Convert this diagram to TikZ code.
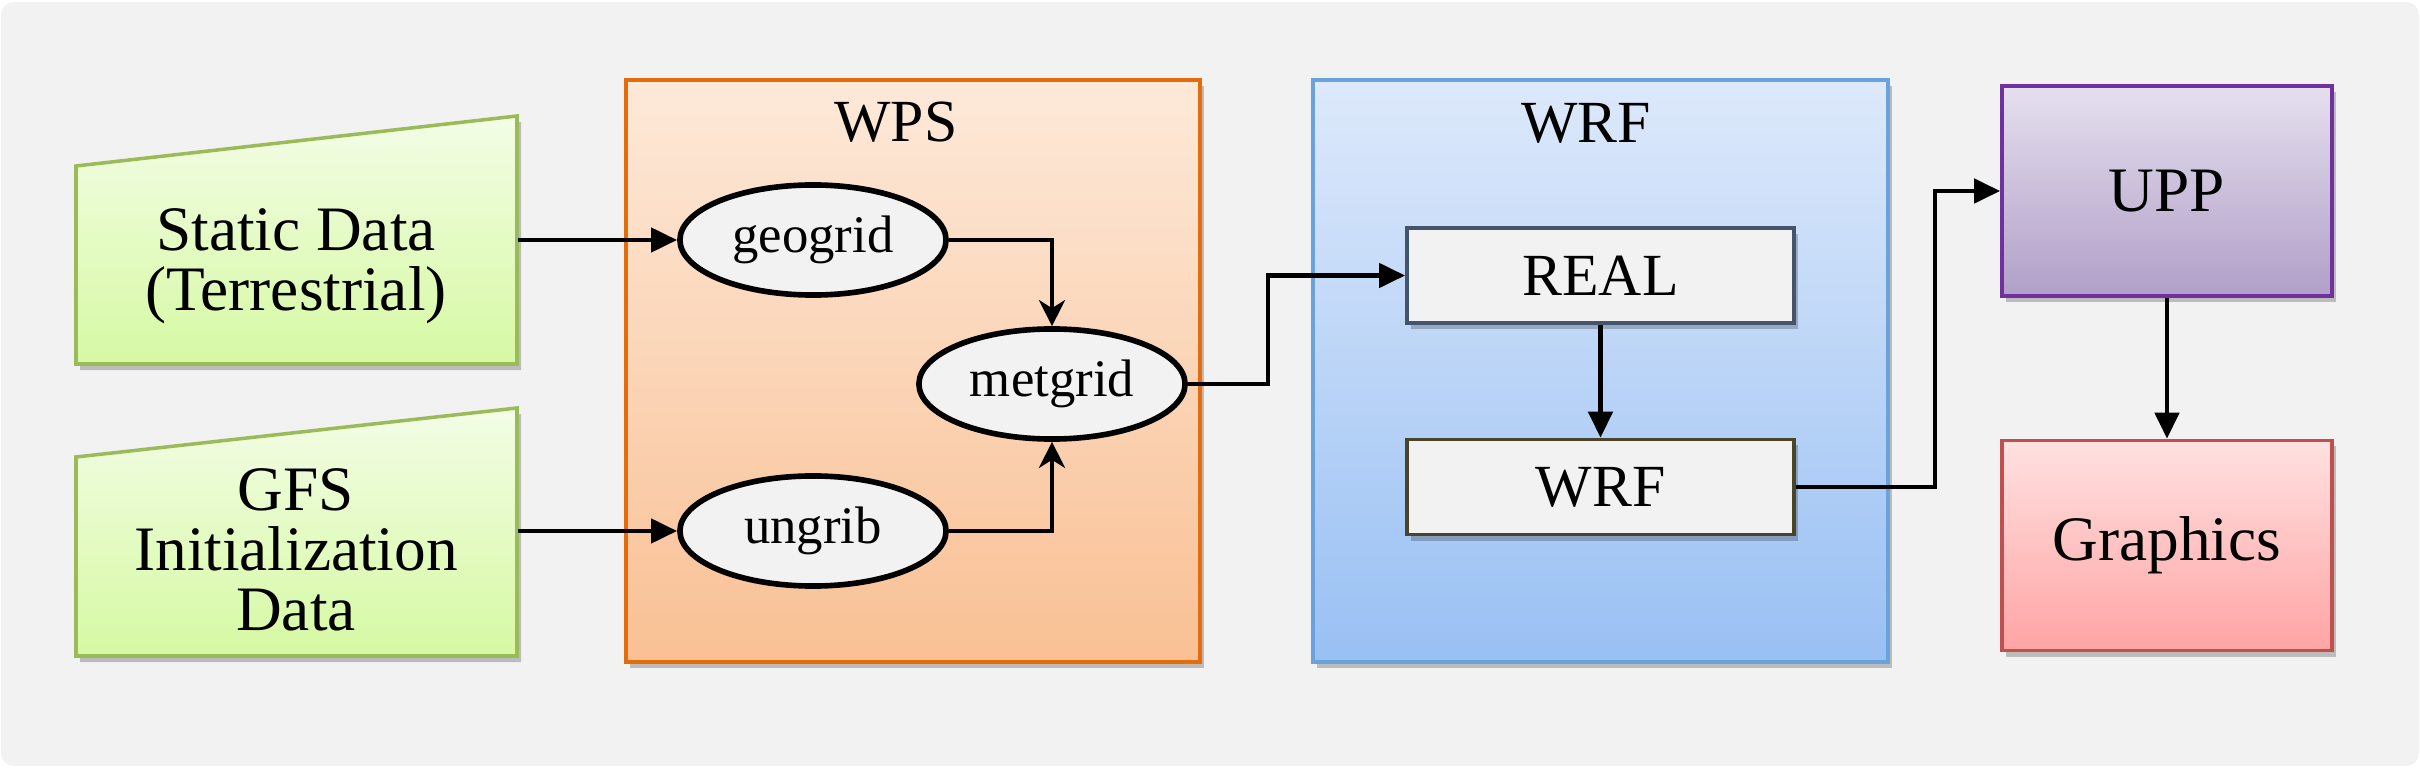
\documentclass[tikz,border=0pt]{standalone}
\usepackage{fontspec}
\setmainfont{Liberation Serif}
\usetikzlibrary{arrows.meta,shadows,fit,calc,shapes.geometric}
\definecolor{bgc}{HTML}{F2F2F2}
\definecolor{trapT}{HTML}{F3FDE6}
\definecolor{trapB}{HTML}{D6F9A3}
\definecolor{trapD}{HTML}{9BBB59}
\definecolor{wpsT}{HTML}{FDE9D9}
\definecolor{wpsB}{HTML}{F9C094}
\definecolor{wpsD}{HTML}{E46C0A}
\definecolor{wrfT}{HTML}{DDE9FB}
\definecolor{wrfB}{HTML}{99C0F3}
\definecolor{wrfD}{HTML}{6AA2DC}
\definecolor{uppT}{HTML}{E5DFEE}
\definecolor{uppB}{HTML}{B19FC8}
\definecolor{uppD}{HTML}{7030A0}
\definecolor{grT}{HTML}{FFE1E1}
\definecolor{grB}{HTML}{FFA4A4}
\definecolor{grD}{HTML}{C0504D}
\definecolor{realD}{HTML}{44546A}
\definecolor{wrfinD}{HTML}{4A4528}
\begin{document}
\begin{tikzpicture}[x=0.01cm,y=-0.01cm,
  shad/.style={drop shadow={shadow xshift=0.04cm,shadow yshift=-0.06cm,opacity=0.22,fill=black}},
  bigbox/.style={shad,rectangle,inner sep=0pt,line width=1pt},
  trap/.style={shad,top color=trapT,bottom color=trapB,draw=trapD,line width=1pt},
  ell/.style={ellipse,draw=black,fill=bgc,line width=1.6pt,inner sep=0pt,
    minimum width=2.66cm,minimum height=1.10cm,font=\fontsize{15}{17}\selectfont},
  inbox/.style={shad,rectangle,fill=bgc,line width=1pt,inner sep=0pt,
    minimum width=3.87cm,minimum height=0.95cm,font=\fontsize{17}{19}\selectfont},
  outbox/.style={shad,rectangle,line width=1pt,inner sep=0pt,
    minimum width=3.30cm,minimum height=2.10cm,font=\fontsize{18}{20}\selectfont},
  maintxt/.style={align=center,inner sep=0pt,font=\fontsize{18}{17}\selectfont},
  titletxt/.style={inner sep=0pt,anchor=base,font=\fontsize{17}{19}\selectfont},
  arr/.style={-{Triangle[length=0.26cm,width=0.24cm]},line width=1.3pt},
  arrs/.style={-{Stealth[length=0.26cm,width=0.26cm,inset=0.08cm]},line width=1.3pt}
]
\useasboundingbox (0,0) rectangle (2420,770);
\fill[bgc,rounded corners=0.13cm] (1,2) rectangle (2419,766);

% input trapezoids
\path[trap] (76,166) -- (517,116) -- (517,364) -- (76,364) -- cycle;
\path[trap] (76,457) -- (517,408) -- (517,656) -- (76,656) -- cycle;
\node[fit={(76,116)(517,364)},inner sep=0pt] (static) {};
\node[fit={(76,406)(517,656)},inner sep=0pt] (gfs) {};
\node[maintxt] (statictxt) at (296,266) {Static Data\\(Terrestrial)};
\node[maintxt] (gfstxt) at (296,550) {GFS\\Initialization\\Data};

% WPS container
\node[bigbox,top color=wpsT,bottom color=wpsB,draw=wpsD,
  minimum width=5.74cm,minimum height=5.82cm] (wps) at (913,371) {};
\node[titletxt] (wpstitle) at (896,142) {WPS};
\node[ell] (geogrid) at (813,240) {geogrid};
\node[ell] (metgrid) at (1052,384) {metgrid};
\node[ell] (ungrib) at (813,531) {ungrib};

% WRF container
\node[bigbox,top color=wrfT,bottom color=wrfB,draw=wrfD,
  minimum width=5.75cm,minimum height=5.82cm] (wrf) at (1600.5,371) {};
\node[titletxt] (wrftitle) at (1586,143) {WRF};
\node[inbox,draw=realD] (real) at (1600.5,275.5) {REAL};
\node[inbox,draw=wrfinD] (wrfin) at (1600.5,487) {WRF};

% UPP and Graphics
\node[outbox,top color=uppT,bottom color=uppB,draw=uppD] (upp) at (2167,191) {UPP};
\node[outbox,top color=grT,bottom color=grB,draw=grD] (graphics) at (2167,545.5) {Graphics};

% connectors
\draw[arr] (static.east) -- (geogrid.west);
\draw[arr] (gfs.east) -- (ungrib.west);
\draw[arrs] (geogrid.east) -| (metgrid.north);
\draw[arrs] (ungrib.east) -| (metgrid.south);
\draw[arr] (metgrid.east) -- ++(80,0) |- (real.west);
\draw[arr] (real.south) -- (wrfin.north);
\draw[arr] (wrfin.east) -- ++(139,0) |- (upp.west);
\draw[arr] (upp.south) -- (graphics.north);
\end{tikzpicture}
\end{document}
